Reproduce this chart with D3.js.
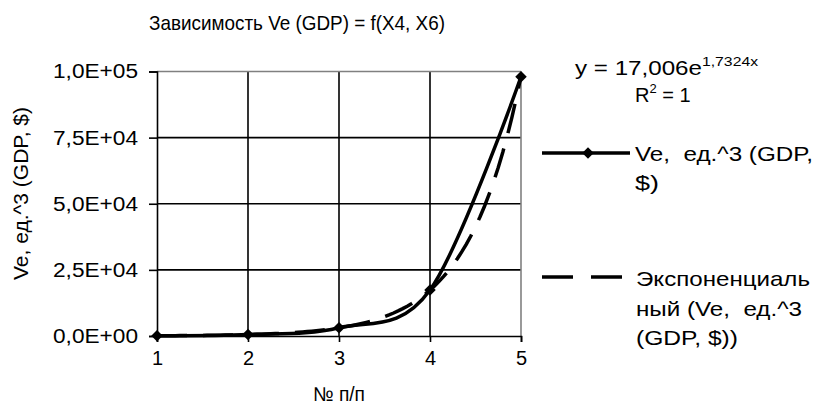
<!DOCTYPE html>
<html>
<head>
<meta charset="utf-8">
<script src="https://cdn.jsdelivr.net/npm/d3@7"></script>
<style>
  html, body { margin: 0; padding: 0; background: #fff; }
  svg { display: block; font-family: "Liberation Sans", Arial, sans-serif; }
  text { white-space: pre; }
</style>
</head>
<body>
<svg id="chart" width="816" height="409"></svg>
<script>
// ---- data ----
const xValues = [1, 2, 3, 4, 5];
const veValues = [100, 540, 3100, 17400, 98000];
const yTicks = [0, 25000, 50000, 75000, 100000];
const yTickLabels = ["0,0E+00", "2,5E+04", "5,0E+04", "7,5E+04", "1,0E+05"];
const xTickLabels = ["1", "2", "3", "4", "5"];
const trendA = 17.006;   // coefficients printed on the chart
const trendB = 1.7324;
const titleText = "Зависимость Ve (GDP) = f(X4, X6)";
const xTitle = "№ п/п";
const yTitle = "Ve, ед.^3 (GDP, $)";
const legendSeries = ["Ve,  ед.^3 (GDP,", "$)"];
const legendTrend = ["Экспоненциаль", "ный (Ve,  ед.^3", "(GDP, $))"];

const svg = d3.select("#chart");
const fs = 20;
const FONT = "Liberation Sans, Arial, sans-serif";

const x = d3.scaleLinear().domain([1, 5]).range([157, 521]);
const y = d3.scaleLinear().domain([0, 100000]).range([336, 71.5]);

// gridlines
const g = svg.append("g");
g.selectAll(".hg").data(yTicks.slice(1, 4)).join("line")
  .attr("x1", x(1)).attr("x2", x(5))
  .attr("y1", d => y(d)).attr("y2", d => y(d))
  .attr("stroke", "#000").attr("stroke-width", 1.6);
g.selectAll(".vg").data(xValues.slice(1, 4)).join("line")
  .attr("x1", d => x(d)).attr("x2", d => x(d))
  .attr("y1", y(0)).attr("y2", y(100000))
  .attr("stroke", "#000").attr("stroke-width", 1.6);
g.append("line").attr("x1", x(1)).attr("x2", x(5)).attr("y1", y(100000)).attr("y2", y(100000))
  .attr("stroke", "#808080").attr("stroke-width", 1.6);
g.append("line").attr("x1", x(5)).attr("x2", x(5)).attr("y1", y(0)).attr("y2", y(100000))
  .attr("stroke", "#808080").attr("stroke-width", 1.6);

// axes
const yAxis = d3.axisLeft(y).tickValues(yTicks).tickSize(8).tickPadding(6)
  .tickFormat((d, i) => yTickLabels[i]);
const ya = svg.append("g").attr("transform", `translate(${x(1)},0)`).call(yAxis);
ya.select(".domain").attr("stroke", "#000").attr("stroke-width", 1.6);
ya.selectAll(".tick line").attr("stroke", "#000").attr("stroke-width", 1.6);
ya.selectAll(".tick text").attr("font-size", fs).attr("fill", "#000")
  .attr("font-family", FONT).attr("x", -19)
  .attr("textLength", 85).attr("lengthAdjust", "spacingAndGlyphs");

const xAxis = d3.axisBottom(x).tickValues(xValues).tickSize(6).tickPadding(9)
  .tickFormat((d, i) => xTickLabels[i]);
const xa = svg.append("g").attr("transform", `translate(0,${y(0)})`).call(xAxis);
xa.select(".domain").attr("stroke", "#000").attr("stroke-width", 1.6);
xa.selectAll(".tick line").attr("stroke", "#000").attr("stroke-width", 1.6);
xa.selectAll(".tick text").attr("font-size", fs).attr("fill", "#000")
  .attr("font-family", FONT);

// series line (smoothed)
const line = d3.line().x(d => x(d[0])).y(d => y(d[1])).curve(d3.curveCatmullRom.alpha(0));
const pts = xValues.map((v, i) => [v, veValues[i]]);
svg.append("path").datum(pts).attr("d", line)
  .attr("fill", "none").attr("stroke", "#000").attr("stroke-width", 3.5);

// exponential trendline from the printed equation
const trendX = d3.range(1, 5.0001, 0.05);
const trendPts = trendX.map(t => [t, trendA * Math.exp(trendB * t)]);
svg.append("path").datum(trendPts).attr("d", d3.line().x(d => x(d[0])).y(d => y(d[1])))
  .attr("fill", "none").attr("stroke", "#000").attr("stroke-width", 3.5)
  .attr("stroke-dasharray", "30,16");

// markers
const diamond = d3.symbol().type(d3.symbolDiamond2).size(85);
svg.selectAll(".mk").data(pts).join("path")
  .attr("d", diamond)
  .attr("transform", d => `translate(${x(d[0])},${y(d[1])})`)
  .attr("fill", "#000");

// title
svg.append("text").attr("x", 149).attr("y", 30)
  .attr("font-size", fs + 1).attr("textLength", 296).attr("lengthAdjust", "spacingAndGlyphs")
  .text(titleText);
// axis titles
svg.append("text").attr("x", 313).attr("y", 401)
  .attr("font-size", fs).attr("textLength", 52).attr("lengthAdjust", "spacingAndGlyphs")
  .text(xTitle);
svg.append("text").attr("transform", "translate(28,280) rotate(-90)")
  .attr("font-size", fs + 1).attr("textLength", 173).attr("lengthAdjust", "spacingAndGlyphs")
  .text(yTitle);

// equation
const eq = svg.append("text").attr("x", 575).attr("y", 75).attr("font-size", fs);
eq.append("tspan").attr("textLength", 127).attr("lengthAdjust", "spacingAndGlyphs").text("y = 17,006e");
eq.append("tspan").attr("dy", -9).attr("font-size", 13)
  .attr("textLength", 56).attr("lengthAdjust", "spacingAndGlyphs").text("1,7324x");
const r2 = svg.append("text").attr("x", 635).attr("y", 102).attr("font-size", fs);
r2.append("tspan").text("R");
r2.append("tspan").attr("dy", -9).attr("font-size", 13).text("2");
r2.append("tspan").attr("dy", 9).text(" = 1");

// legend
const lg = svg.append("g");
lg.append("line").attr("x1", 542).attr("x2", 630).attr("y1", 153).attr("y2", 153)
  .attr("stroke", "#000").attr("stroke-width", 3.5);
lg.append("path").attr("d", diamond).attr("transform", "translate(588,153)").attr("fill", "#000");
const serLen = [178, 24];
lg.selectAll(".ls").data(legendSeries).join("text")
  .attr("x", 635).attr("y", (d, i) => 161 + i * 29).attr("font-size", fs + 1)
  .attr("textLength", (d, i) => serLen[i]).attr("lengthAdjust", "spacingAndGlyphs")
  .text(d => d);
lg.append("line").attr("x1", 542).attr("x2", 622).attr("y1", 277).attr("y2", 277)
  .attr("stroke", "#000").attr("stroke-width", 3.5).attr("stroke-dasharray", "31,18");
const trLen = [174, 166, 102];
lg.selectAll(".lt").data(legendTrend).join("text")
  .attr("x", 636).attr("y", (d, i) => 286 + i * 29.5).attr("font-size", fs + 1)
  .attr("textLength", (d, i) => trLen[i]).attr("lengthAdjust", "spacingAndGlyphs")
  .text(d => d);
</script>
</body>
</html>
